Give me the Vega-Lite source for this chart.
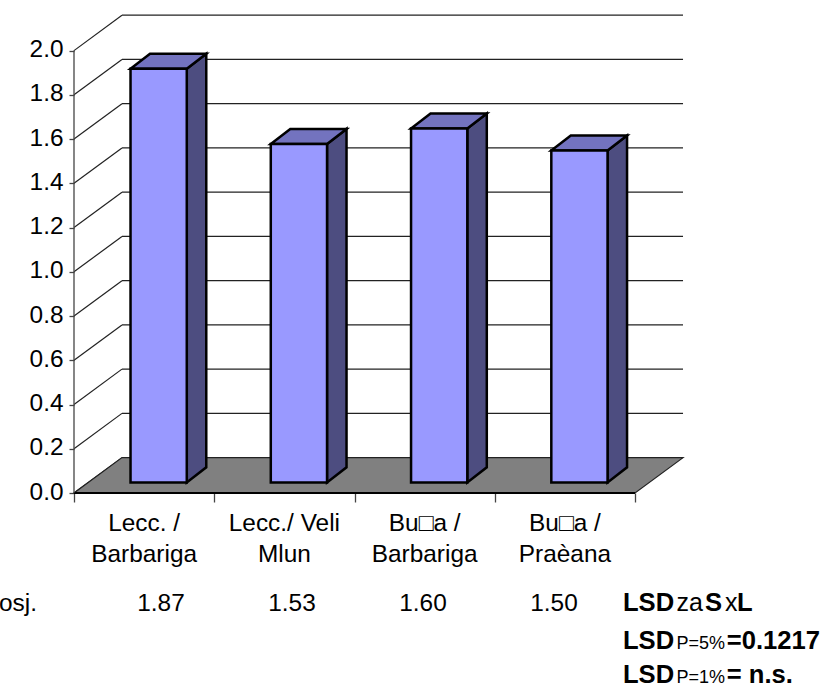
{
"$schema":"https://vega.github.io/schema/vega-lite/v6.json",
"width":610,"height":478,
"autosize":{"type":"none"},
"padding":{"left":74,"top":15,"right":138,"bottom":192},
"background":"white",
"config":{"view":{"stroke":null},"text":{"font":"Liberation Sans","fontSize":24.4,"color":"black"},"axis":{"labelFont":"Liberation Sans"}},
"datasets":{
 "bars":[
  {"cat":"Lecc. /\nBarbariga","value":1.87},
  {"cat":"Lecc./ Veli\nMlun","value":1.53},
  {"cat":"Bu□a /\nBarbariga","value":1.60},
  {"cat":"Bu□a /\nPraèana","value":1.50}],
 "ticks":[{"v":0},{"v":0.2},{"v":0.4},{"v":0.6},{"v":0.8},{"v":1.0},{"v":1.2},{"v":1.4},{"v":1.6},{"v":1.8},{"v":2.0}]
},
"layer":[
 {"data":{"name":"ticks"},
  "transform":[{"calculate":"datum.v+0.16","as":"vb"}],
  "mark":{"type":"rule","color":"#222222","strokeWidth":1.2},
  "encoding":{
   "x":{"datum":0.342,"type":"quantitative","scale":{"domain":[0,4.349],"range":[0,610],"nice":false,"zero":false},
        "axis":{"values":[0,1,2,3,4],"labels":false,"title":null,"domain":false,"grid":false,"tickSize":9,"tickColor":"#444444","tickWidth":1.3}},
   "x2":{"datum":4.342},
   "y":{"field":"vb","type":"quantitative","scale":{"domain":[0,2.161],"range":[478,0],"nice":false,"zero":false},
        "axis":{"values":[0,0.2,0.4,0.6,0.8,1.0,1.2,1.4,1.6,1.8,2.0],"format":".1f","title":null,"domain":false,"grid":false,"tickSize":5,"tickColor":"#444444","tickWidth":1.3,"labelFontSize":24.4,"labelColor":"black","labelPadding":6,"labelOffset":-1}},
   "y2":{"field":"vb"}}},
 {"data":{"name":"ticks"},
  "transform":[{"calculate":"datum.v+0.16","as":"vb"}],
  "mark":{"type":"rule","color":"#222222","strokeWidth":1.2},
  "encoding":{"x":{"datum":0,"type":"quantitative"},"x2":{"datum":0.342},"y":{"field":"v","type":"quantitative"},"y2":{"field":"vb"}}},
 {"data":{"values":[{"d":0},{"d":1}]},
  "transform":[{"calculate":"datum.d*0.342","as":"a"},{"calculate":"4+datum.d*0.342","as":"b"},{"calculate":"datum.d*0.16","as":"c"}],
  "mark":{"type":"area","orient":"horizontal","fill":"#808080","stroke":"#222222","strokeWidth":1.2},
  "encoding":{"y":{"field":"c","type":"quantitative","sort":null},"x":{"field":"a","type":"quantitative"},"x2":{"field":"b"}}},
 {"data":{"values":[{"a":0,"b":4,"c":0}]},
  "mark":{"type":"rule","color":"black","strokeWidth":2},
  "encoding":{"x":{"field":"a","type":"quantitative"},"x2":{"field":"b"},"y":{"field":"c","type":"quantitative"}}},
 {"data":{"values":[{"a":0,"c":0,"e":2}]},
  "mark":{"type":"rule","color":"#444444","strokeWidth":1.3},
  "encoding":{"x":{"field":"a","type":"quantitative"},"y":{"field":"c","type":"quantitative"},"y2":{"field":"e"}}},
 {"data":{"name":"bars"},
  "transform":[{"window":[{"op":"row_number","as":"i"}]},{"calculate":"[0,1]","as":"d"},{"flatten":["d"]},
   {"calculate":"datum.i-1+0.804+0.139*datum.d","as":"xs"},{"calculate":"datum.value+0.048+0.068*datum.d","as":"yt"},{"calculate":"0.048+0.068*datum.d","as":"yb"}],
  "mark":{"type":"area","orient":"vertical","fill":"#4D4D80","stroke":"black","strokeWidth":2.5,"strokeJoin":"miter"},
  "encoding":{"x":{"field":"xs","type":"quantitative"},"y":{"field":"yt","type":"quantitative"},"y2":{"field":"yb"},"detail":{"field":"i"}}},
 {"data":{"name":"bars"},
  "transform":[{"window":[{"op":"row_number","as":"i"}]},{"calculate":"[0,1]","as":"d"},{"flatten":["d"]},
   {"calculate":"datum.i-1+0.403+0.139*datum.d","as":"xl"},{"calculate":"datum.i-1+0.804+0.139*datum.d","as":"xr"},{"calculate":"datum.value+0.048+0.068*datum.d","as":"yt"}],
  "mark":{"type":"area","orient":"horizontal","fill":"#7373BF","stroke":"black","strokeWidth":2.5,"strokeJoin":"miter"},
  "encoding":{"y":{"field":"yt","type":"quantitative"},"x":{"field":"xl","type":"quantitative"},"x2":{"field":"xr"},"detail":{"field":"i"}}},
 {"data":{"name":"bars"},
  "transform":[{"window":[{"op":"row_number","as":"i"}]},
   {"calculate":"datum.i-1+0.403","as":"xl"},{"calculate":"datum.i-1+0.804","as":"xr"},{"calculate":"datum.value+0.048","as":"yt"},{"calculate":"0.048","as":"yb"}],
  "mark":{"type":"rect","fill":"#9999FF","stroke":"black","strokeWidth":2.5},
  "encoding":{"x":{"field":"xl","type":"quantitative"},"x2":{"field":"xr"},"y":{"field":"yt","type":"quantitative"},"y2":{"field":"yb"}}},
 {"data":{"name":"bars"},
  "transform":[{"window":[{"op":"row_number","as":"i"}]},{"calculate":"datum.i-0.5","as":"xc"},{"calculate":"-0.139","as":"yc"}],
  "mark":{"type":"text","align":"center","baseline":"middle","lineBreak":"\n","lineHeight":31,"clip":false},
  "encoding":{"x":{"field":"xc","type":"quantitative"},"y":{"field":"yc","type":"quantitative"},"text":{"field":"cat"}}},
 {"data":{"name":"bars"},
  "transform":[{"window":[{"op":"row_number","as":"i"}]},{"calculate":"0.62+0.934*(datum.i-1)","as":"xc"},{"calculate":"-0.532","as":"yc"}],
  "mark":{"type":"text","align":"center","baseline":"alphabetic"},
  "encoding":{"x":{"field":"xc","type":"quantitative"},"y":{"field":"yc","type":"quantitative"},"text":{"field":"value","type":"quantitative","format":".2f"}}},
 {"data":{"values":[{"t":"Posj."}]},"mark":{"type":"text","align":"right","baseline":"alphabetic"},
  "encoding":{"x":{"datum":-0.264,"type":"quantitative"},"y":{"datum":-0.532,"type":"quantitative"},"text":{"field":"t"}}},
 {"data":{"values":[{"t":"LSD"}]},"mark":{"type":"text","align":"left","baseline":"alphabetic","fontWeight":"bold","fontSize":25.6},
  "encoding":{"x":{"datum":3.914,"type":"quantitative"},"y":{"datum":-0.532,"type":"quantitative"},"text":{"field":"t"}}},
 {"data":{"values":[{"t":"za"}]},"mark":{"type":"text","align":"left","baseline":"alphabetic","fontSize":25},
  "encoding":{"x":{"datum":4.296,"type":"quantitative"},"y":{"datum":-0.532,"type":"quantitative"},"text":{"field":"t"}}},
 {"data":{"values":[{"t":"S"}]},"mark":{"type":"text","align":"left","baseline":"alphabetic","fontWeight":"bold","fontSize":25.6},
  "encoding":{"x":{"datum":4.499,"type":"quantitative"},"y":{"datum":-0.532,"type":"quantitative"},"text":{"field":"t"}}},
 {"data":{"values":[{"t":"x"}]},"mark":{"type":"text","align":"left","baseline":"alphabetic","fontSize":25},
  "encoding":{"x":{"datum":4.642,"type":"quantitative"},"y":{"datum":-0.532,"type":"quantitative"},"text":{"field":"t"}}},
 {"data":{"values":[{"t":"L"}]},"mark":{"type":"text","align":"left","baseline":"alphabetic","fontWeight":"bold","fontSize":25.6},
  "encoding":{"x":{"datum":4.727,"type":"quantitative"},"y":{"datum":-0.532,"type":"quantitative"},"text":{"field":"t"}}},
 {"data":{"values":[{"t":"LSD"}]},"mark":{"type":"text","align":"left","baseline":"alphabetic","fontWeight":"bold","fontSize":25.6},
  "encoding":{"x":{"datum":3.914,"type":"quantitative"},"y":{"datum":-0.705,"type":"quantitative"},"text":{"field":"t"}}},
 {"data":{"values":[{"t":"P=5%"}]},"mark":{"type":"text","align":"left","baseline":"alphabetic","fontSize":18},
  "encoding":{"x":{"datum":4.296,"type":"quantitative"},"y":{"datum":-0.705,"type":"quantitative"},"text":{"field":"t"}}},
 {"data":{"values":[{"t":"=0.1217"}]},"mark":{"type":"text","align":"left","baseline":"alphabetic","fontWeight":"bold","fontSize":25.6},
  "encoding":{"x":{"datum":4.654,"type":"quantitative"},"y":{"datum":-0.705,"type":"quantitative"},"text":{"field":"t"}}},
 {"data":{"values":[{"t":"LSD"}]},"mark":{"type":"text","align":"left","baseline":"alphabetic","fontWeight":"bold","fontSize":25.6},
  "encoding":{"x":{"datum":3.914,"type":"quantitative"},"y":{"datum":-0.858,"type":"quantitative"},"text":{"field":"t"}}},
 {"data":{"values":[{"t":"P=1%"}]},"mark":{"type":"text","align":"left","baseline":"alphabetic","fontSize":18},
  "encoding":{"x":{"datum":4.296,"type":"quantitative"},"y":{"datum":-0.858,"type":"quantitative"},"text":{"field":"t"}}},
 {"data":{"values":[{"t":"= n.s."}]},"mark":{"type":"text","align":"left","baseline":"alphabetic","fontWeight":"bold","fontSize":25.6},
  "encoding":{"x":{"datum":4.654,"type":"quantitative"},"y":{"datum":-0.858,"type":"quantitative"},"text":{"field":"t"}}}
]
}
